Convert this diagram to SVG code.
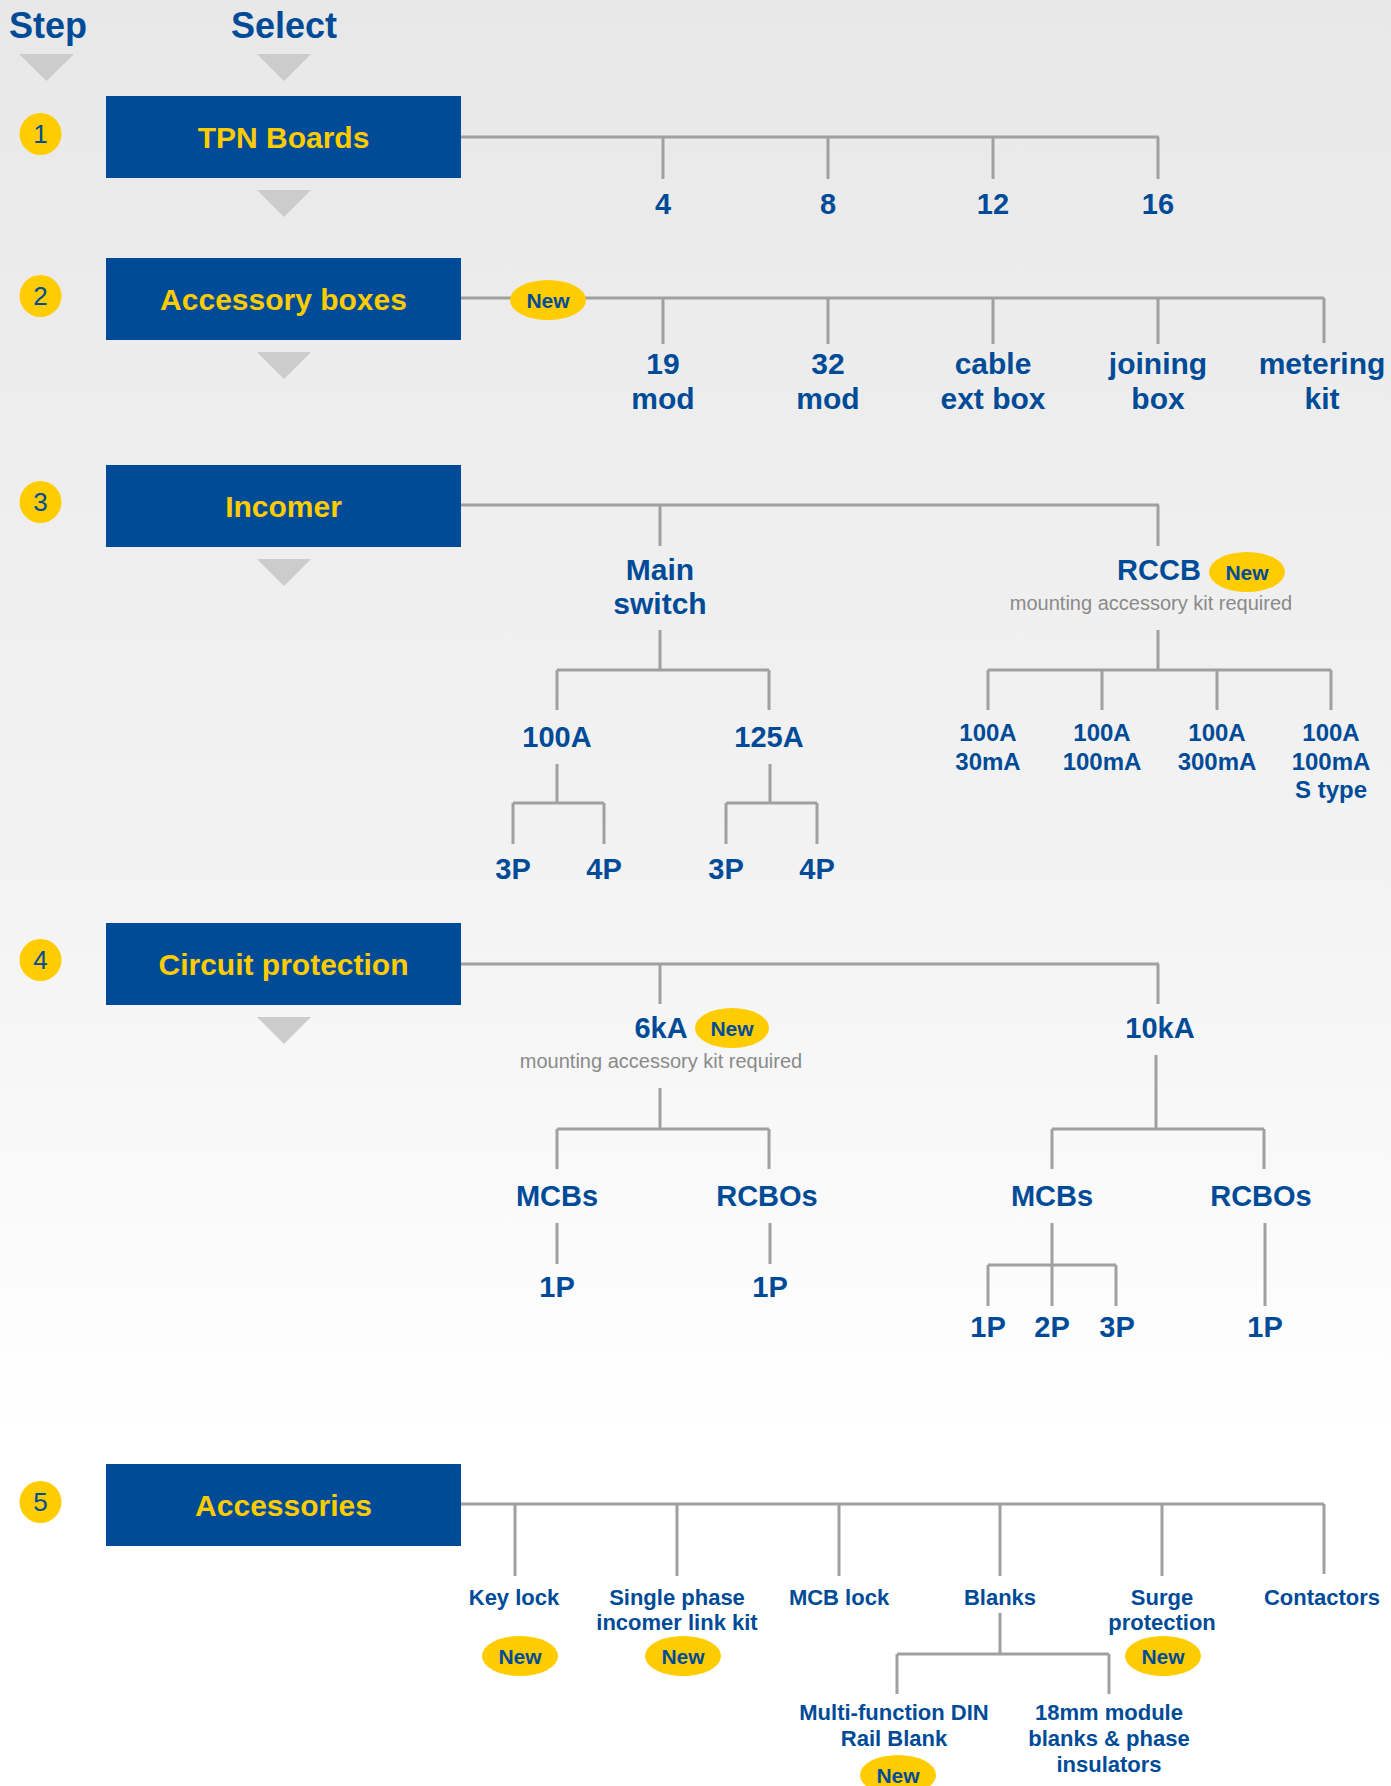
<svg xmlns="http://www.w3.org/2000/svg" width="1391" height="1786" viewBox="0 0 1391 1786">
<defs>
<linearGradient id="bg" x1="0" y1="0" x2="0" y2="1">
<stop offset="0" stop-color="#e8e8e8"/>
<stop offset="0.5" stop-color="#f3f3f3"/>
<stop offset="0.8" stop-color="#ffffff"/>
<stop offset="1" stop-color="#ffffff"/>
</linearGradient>
</defs>
<style>
.box{fill:#004b97}
.bt{font-family:"Liberation Sans",Arial,sans-serif;font-weight:bold;font-size:30px;fill:#ffcc00;text-anchor:middle}
.tri{fill:#cccccc}
.dot{fill:#ffcc00}
.sn{font-family:"Liberation Sans",Arial,sans-serif;font-size:26px;fill:#004b97;text-anchor:middle}
.hd{font-family:"Liberation Sans",Arial,sans-serif;font-weight:bold;font-size:36px;fill:#004b97}
.lb{font-family:"Liberation Sans",Arial,sans-serif;font-weight:bold;font-size:29px;fill:#004b97;text-anchor:middle}
.l2{font-size:30px}
.ls{font-size:24px}
.la{font-size:22px}
.new{fill:#ffcc00}
.nt{font-family:"Liberation Sans",Arial,sans-serif;font-weight:bold;font-size:21px;fill:#004b97;text-anchor:middle}
.note{font-family:"Liberation Sans",Arial,sans-serif;font-size:20px;fill:#8a8a8a;text-anchor:middle}
.cn{stroke:#a0a0a0;stroke-width:3;fill:none}
</style>
<rect x="0" y="0" width="1391" height="1786" fill="url(#bg)"/>

<g id="header">
<text class="hd" x="9" y="38">Step</text>
<text class="hd" x="284" y="38" text-anchor="middle">Select</text>
<polygon class="tri" points="19,54 74,54 46.5,81"/>
<polygon class="tri" points="257,54 311,54 284,81"/>
</g>

<g id="connectors">
<path class="cn" d="M460 137H1159 M663 137V179 M828 137V179 M993 137V179 M1158 137V179"/>
<path class="cn" d="M460 298H1324 M663 298V344 M828 298V344 M993 298V344 M1158 298V344 M1324 298V343"/>
<path class="cn" d="M460 505H1159 M660 505V546 M1158 505V546
M660 630V670 M557 670H769 M557 670V710 M769 670V710
M557 764V803 M513 803H604 M513 803V844 M604 803V844
M770 764V803 M726 803H817 M726 803V844 M817 803V844
M1158 630V670 M988 670H1331 M988 670V710 M1102 670V710 M1217 670V710 M1331 670V710"/>
<path class="cn" d="M460 964H1159 M660 964V1004 M1158 964V1004
M660 1088V1129 M557 1129H769 M557 1129V1169 M769 1129V1169
M557 1223V1264 M770 1223V1264
M1156 1055V1129 M1052 1129H1264 M1052 1129V1169 M1264 1129V1169
M1052 1223V1306 M988 1265H1116 M988 1265V1306 M1116 1265V1306
M1265 1223V1306"/>
<path class="cn" d="M460 1504H1324 M515 1504V1576 M677 1504V1576 M839 1504V1576 M1000 1504V1576 M1162 1504V1576 M1324 1504V1574
M1000 1613V1654 M897 1654H1109 M897 1654V1694 M1109 1654V1694"/>
</g>

<g id="step1"><circle class="dot" cx="40.5" cy="134" r="21"/><text class="sn" x="40.5" y="143">1</text></g>
<g id="step2"><circle class="dot" cx="40.5" cy="296" r="21"/><text class="sn" x="40.5" y="305">2</text></g>
<g id="step3"><circle class="dot" cx="40.5" cy="502" r="21"/><text class="sn" x="40.5" y="511">3</text></g>
<g id="step4"><circle class="dot" cx="40.5" cy="960" r="21"/><text class="sn" x="40.5" y="969">4</text></g>
<g id="step5"><circle class="dot" cx="40.5" cy="1502" r="21"/><text class="sn" x="40.5" y="1511">5</text></g>

<g id="tpn-boards"><rect class="box" x="106" y="96" width="355" height="82"/><text class="bt" x="283.5" y="148">TPN Boards</text><polygon class="tri" points="257,190 311,190 284,217"/></g>
<g id="accessory-boxes"><rect class="box" x="106" y="258" width="355" height="82"/><text class="bt" x="283.5" y="310">Accessory boxes</text><polygon class="tri" points="257,352 311,352 284,379"/></g>
<g id="incomer"><rect class="box" x="106" y="465" width="355" height="82"/><text class="bt" x="283.5" y="517">Incomer</text><polygon class="tri" points="257,559 311,559 284,586"/></g>
<g id="circuit-protection"><rect class="box" x="106" y="923" width="355" height="82"/><text class="bt" x="283.5" y="975">Circuit protection</text><polygon class="tri" points="257,1017 311,1017 284,1044"/></g>
<g id="accessories"><rect class="box" x="106" y="1464" width="355" height="82"/><text class="bt" x="283.5" y="1516">Accessories</text></g>

<g id="boards-sizes">
<text class="lb" x="663" y="214">4</text>
<text class="lb" x="828" y="214">8</text>
<text class="lb" x="993" y="214">12</text>
<text class="lb" x="1158" y="214">16</text>
</g>

<g id="new-boxes"><ellipse class="new" cx="548" cy="300" rx="38" ry="20"/><text class="nt" x="548" y="307.5">New</text></g>
<g id="box-19"><text class="lb l2" x="663" y="374">19</text><text class="lb l2" x="663" y="409">mod</text></g>
<g id="box-32"><text class="lb l2" x="828" y="374">32</text><text class="lb l2" x="828" y="409">mod</text></g>
<g id="box-cable"><text class="lb l2" x="993" y="374">cable</text><text class="lb l2" x="993" y="409">ext box</text></g>
<g id="box-joining"><text class="lb l2" x="1158" y="374">joining</text><text class="lb l2" x="1158" y="409">box</text></g>
<g id="box-metering"><text class="lb l2" x="1322" y="374">metering</text><text class="lb l2" x="1322" y="409">kit</text></g>

<g id="main-switch"><text class="lb l2" x="660" y="580">Main</text><text class="lb l2" x="660" y="614">switch</text></g>
<g id="ms-100a"><text class="lb" x="557" y="747">100A</text></g>
<g id="ms-125a"><text class="lb" x="769" y="747">125A</text></g>
<g id="ms-100a-3p"><text class="lb" x="513" y="879">3P</text></g>
<g id="ms-100a-4p"><text class="lb" x="604" y="879">4P</text></g>
<g id="ms-125a-3p"><text class="lb" x="726" y="879">3P</text></g>
<g id="ms-125a-4p"><text class="lb" x="817" y="879">4P</text></g>
<g id="rccb"><text class="lb" x="1159" y="580">RCCB</text><ellipse class="new" cx="1247" cy="572" rx="38" ry="20"/><text class="nt" x="1247" y="579.5">New</text><text class="note" x="1151" y="610">mounting accessory kit required</text></g>
<g id="rccb-30"><text class="lb ls" x="988" y="741">100A</text><text class="lb ls" x="988" y="770">30mA</text></g>
<g id="rccb-100"><text class="lb ls" x="1102" y="741">100A</text><text class="lb ls" x="1102" y="770">100mA</text></g>
<g id="rccb-300"><text class="lb ls" x="1217" y="741">100A</text><text class="lb ls" x="1217" y="770">300mA</text></g>
<g id="rccb-s"><text class="lb ls" x="1331" y="741">100A</text><text class="lb ls" x="1331" y="770">100mA</text><text class="lb ls" x="1331" y="798">S type</text></g>

<g id="cp-6ka"><text class="lb" x="661" y="1038">6kA</text><ellipse class="new" cx="732" cy="1028" rx="37" ry="20"/><text class="nt" x="732" y="1035.5">New</text><text class="note" x="661" y="1068">mounting accessory kit required</text></g>
<g id="cp-10ka"><text class="lb" x="1160" y="1038">10kA</text></g>
<g id="6ka-mcbs"><text class="lb" x="557" y="1206">MCBs</text></g>
<g id="6ka-rcbos"><text class="lb" x="767" y="1206">RCBOs</text></g>
<g id="6ka-mcbs-1p"><text class="lb" x="557" y="1297">1P</text></g>
<g id="6ka-rcbos-1p"><text class="lb" x="770" y="1297">1P</text></g>
<g id="10ka-mcbs"><text class="lb" x="1052" y="1206">MCBs</text></g>
<g id="10ka-rcbos"><text class="lb" x="1261" y="1206">RCBOs</text></g>
<g id="10ka-mcbs-1p"><text class="lb" x="988" y="1337">1P</text></g>
<g id="10ka-mcbs-2p"><text class="lb" x="1052" y="1337">2P</text></g>
<g id="10ka-mcbs-3p"><text class="lb" x="1117" y="1337">3P</text></g>
<g id="10ka-rcbos-1p"><text class="lb" x="1265" y="1337">1P</text></g>

<g id="acc-keylock"><text class="lb la" x="514" y="1605">Key lock</text><ellipse class="new" cx="520" cy="1656" rx="38" ry="20"/><text class="nt" x="520" y="1663.5">New</text></g>
<g id="acc-single"><text class="lb la" x="677" y="1605">Single phase</text><text class="lb la" x="677" y="1630">incomer link kit</text><ellipse class="new" cx="683" cy="1656" rx="38" ry="20"/><text class="nt" x="683" y="1663.5">New</text></g>
<g id="acc-mcblock"><text class="lb la" x="839" y="1605">MCB lock</text></g>
<g id="acc-blanks"><text class="lb la" x="1000" y="1605">Blanks</text></g>
<g id="acc-surge"><text class="lb la" x="1162" y="1605">Surge</text><text class="lb la" x="1162" y="1630">protection</text><ellipse class="new" cx="1163" cy="1656" rx="38" ry="20"/><text class="nt" x="1163" y="1663.5">New</text></g>
<g id="acc-contactors"><text class="lb la" x="1322" y="1605">Contactors</text></g>
<g id="blank-din"><text class="lb la" x="894" y="1720">Multi-function DIN</text><text class="lb la" x="894" y="1746">Rail Blank</text><ellipse class="new" cx="898" cy="1775" rx="38" ry="20"/><text class="nt" x="898" y="1782.5">New</text></g>
<g id="blank-18mm"><text class="lb la" x="1109" y="1720">18mm module</text><text class="lb la" x="1109" y="1746">blanks &amp; phase</text><text class="lb la" x="1109" y="1772">insulators</text></g>
</svg>
